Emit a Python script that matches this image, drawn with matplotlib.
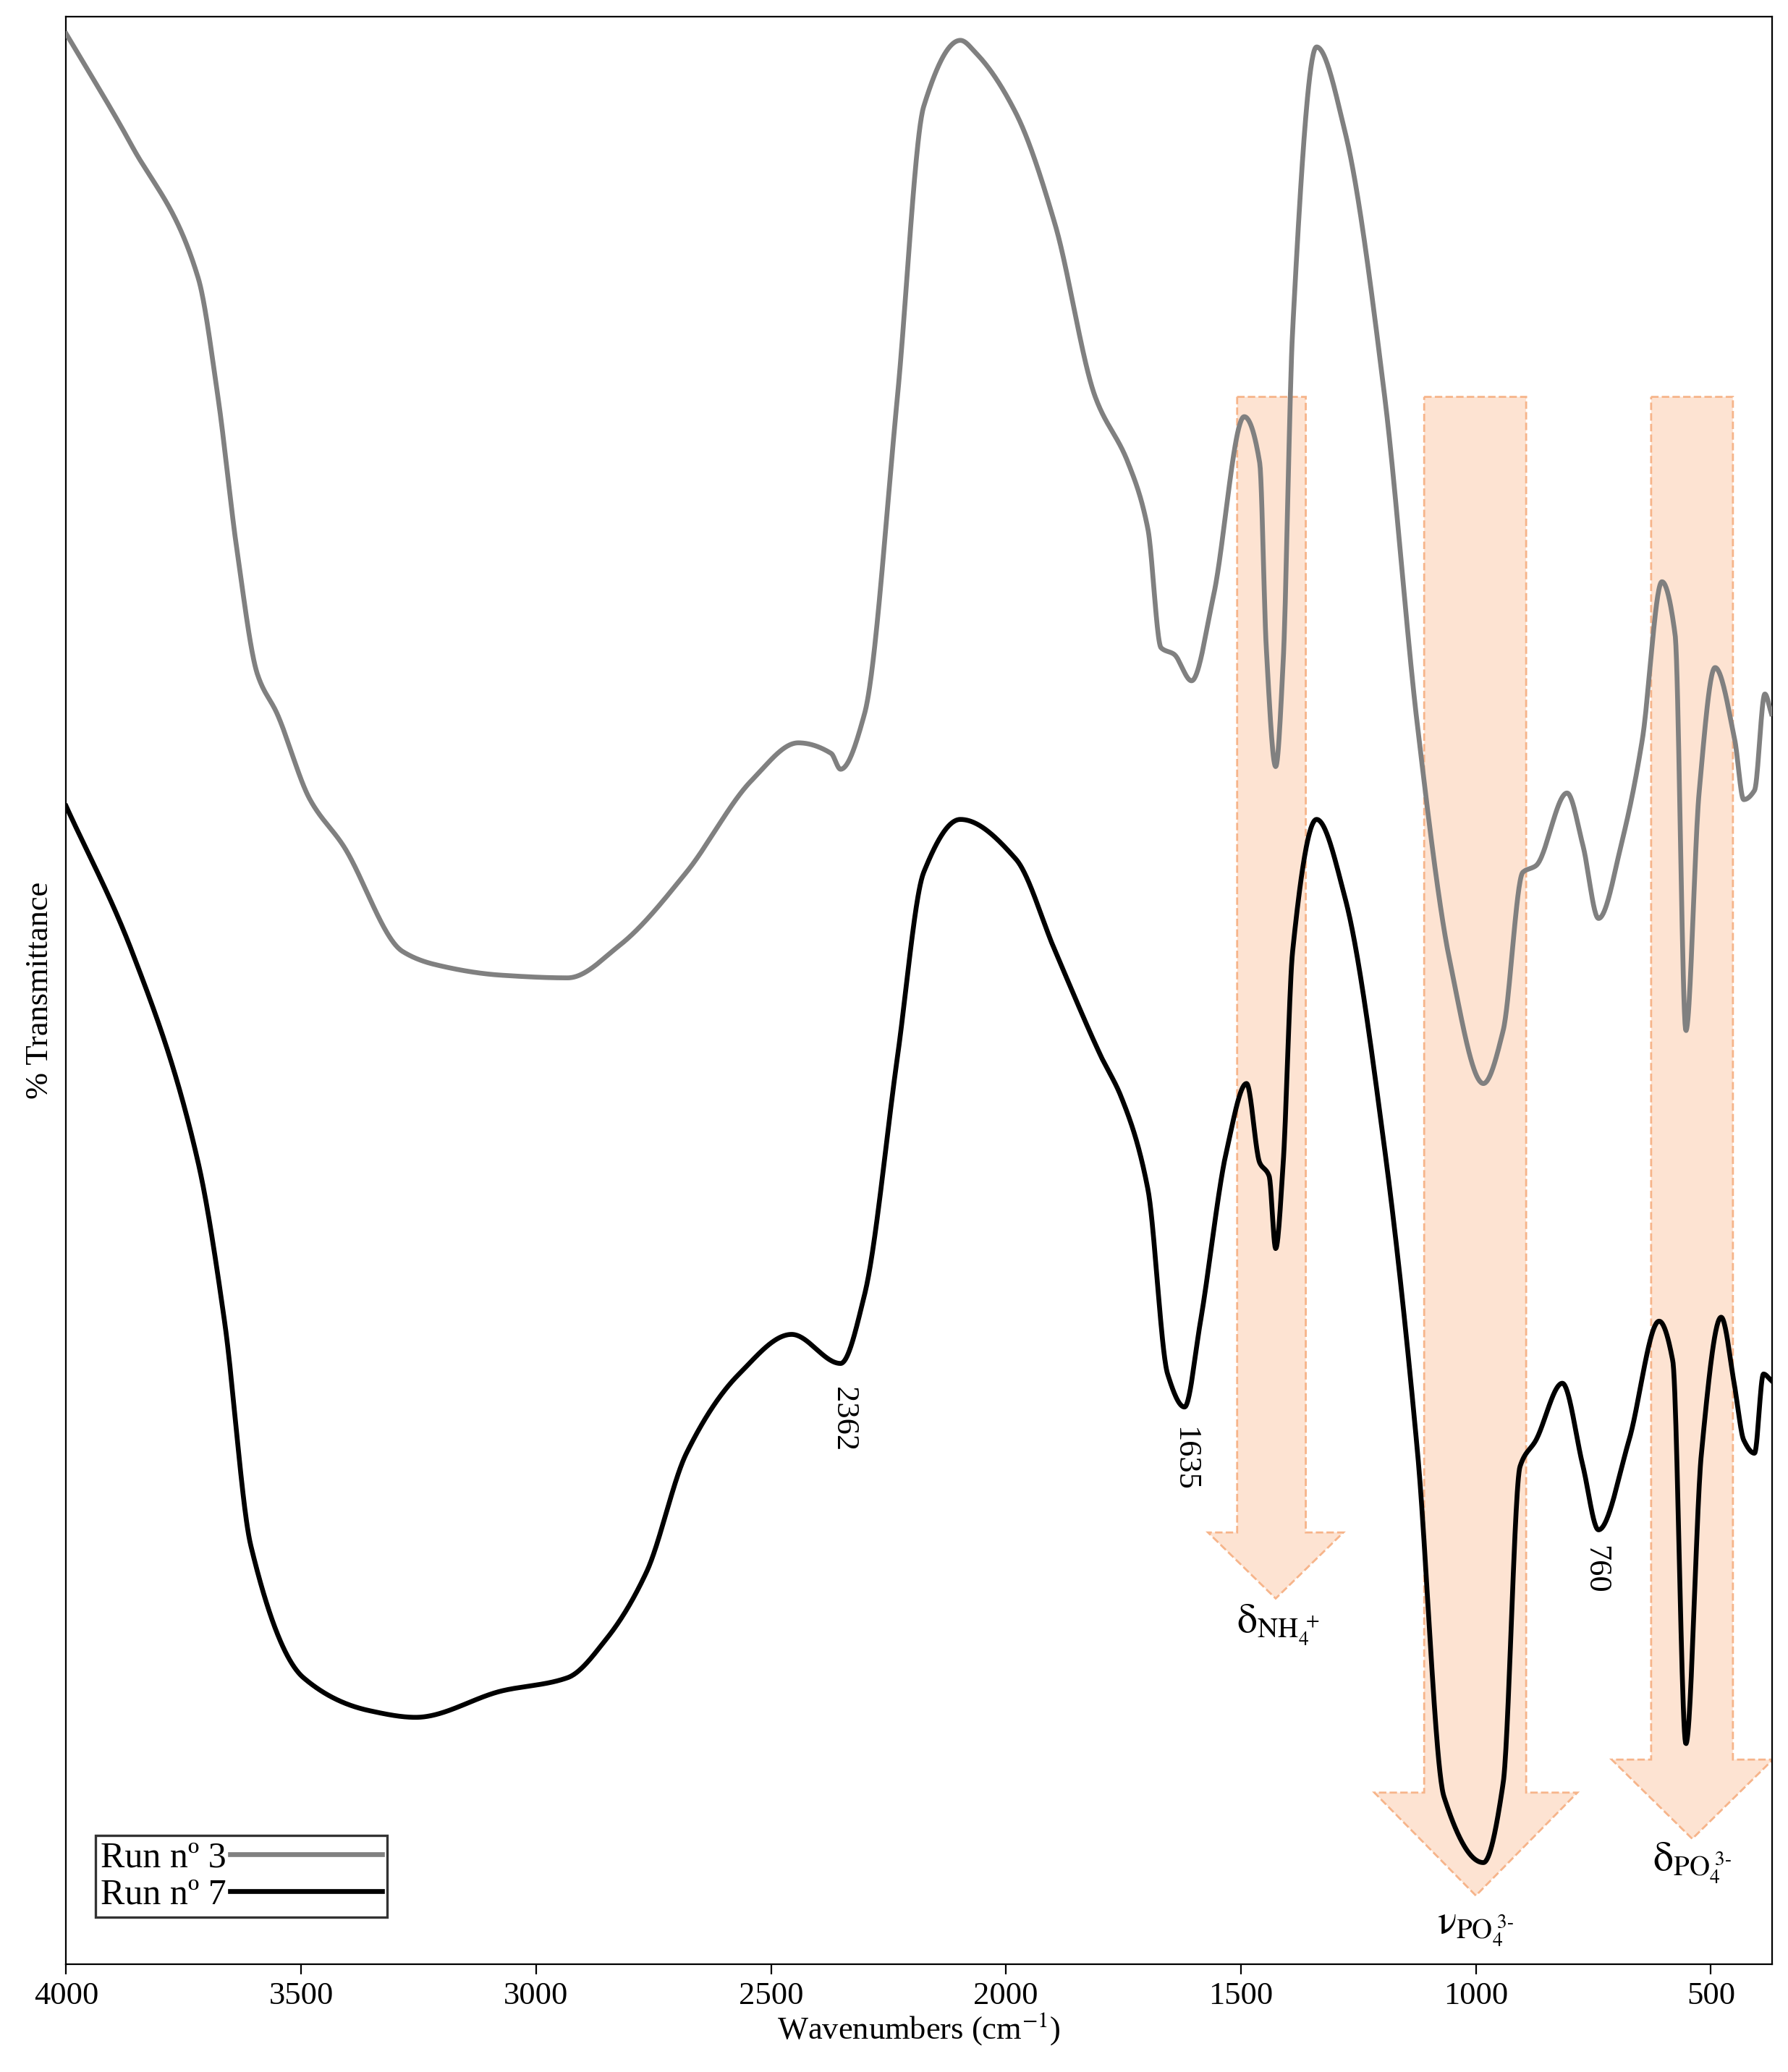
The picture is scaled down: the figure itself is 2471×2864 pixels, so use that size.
import matplotlib
matplotlib.use("Agg")
import matplotlib.pyplot as plt
from matplotlib.patches import Polygon
import numpy as np

plt.rcParams['font.family'] = ['Liberation Serif', 'DejaVu Serif']
plt.rcParams['mathtext.fontset'] = 'stix'

wn_run3 = [4000,3860,3719,3677,3635,3593,3551,3481,3410,3284,3214,3073,2933,2821,2680,2540,2442,2372,2352,2301,
           2231,2175,2097,2063,1979,1895,1810,1740,1698,1670,1642,1605,1558,1493,1460,1446,1426,1410,1390,1339,
           1278,1194,1124,1054,984,942,900,872,806,772,739,688,646,604,576,553,525,491,449,430,407,385,371]
t_run3 = [1462,1377,1277,1187,1067,977,947,882,847,767,757,749,747,772,827,897,925,917,905,947,
          1187,1407,1457,1447,1402,1317,1187,1137,1087,997,992,972,1037,1172,1137,997,907,987,1237,1452,
          1387,1187,937,757,667,707,827,832,887,847,792,852,927,1047,1007,707,887,982,927,882,889,962,947]
wn_run7 = [4000,3860,3719,3663,3607,3495,3354,3256,3073,2933,2849,2765,2680,2568,2456,2352,2301,2231,2175,2097,
           1979,1895,1797,1755,1698,1656,1620,1586,1530,1488,1460,1440,1426,1410,1390,1339,1278,1194,1124,1068,
           984,942,906,872,816,772,739,674,610,581,553,520,478,449,430,407,388,371]
t_run7 = [877,767,607,487,317,217,192,187,207,217,247,297,387,447,477,455,507,687,827,867,
          837,767,687,657,587,447,422,487,617,667,607,597,542,607,767,867,807,617,387,127,
          77,137,377,397,440,377,329,397,487,457,167,387,490,437,397,387,447,442]

band_labels = [r'$\mathrm{δ}_{\mathrm{NH}_4^{\ +}}$', r'$\mathrm{ν}_{\mathrm{PO}_4^{\ 3\text{-}}}$', r'$\mathrm{δ}_{\mathrm{PO}_4^{\ 3\text{-}}}$']
peak_labels = ['2362', '1635', '760']
peak_wn = [2345, 1620, 745]
peak_t = [437, 407, 317]


def pchip(x, y, n=3000):
    x = np.asarray(x, float)[::-1]
    y = np.asarray(y, float)[::-1]
    h = np.diff(x)
    d = np.diff(y) / h
    m = np.zeros_like(y)
    for k in range(1, len(x) - 1):
        if d[k - 1] * d[k] > 0:
            w1 = 2 * h[k] + h[k - 1]
            w2 = h[k] + 2 * h[k - 1]
            m[k] = (w1 + w2) / (w1 / d[k - 1] + w2 / d[k])
    m[0] = d[0]
    m[-1] = d[-1]
    xs = np.linspace(x[0], x[-1], n)
    idx = np.clip(np.searchsorted(x, xs) - 1, 0, len(x) - 2)
    t = (xs - x[idx]) / h[idx]
    h00 = 2 * t**3 - 3 * t**2 + 1
    h10 = t**3 - 2 * t**2 + t
    h01 = -2 * t**3 + 3 * t**2
    h11 = t**3 - t**2
    ys = h00 * y[idx] + h10 * h[idx] * m[idx] + h01 * y[idx + 1] + h11 * h[idx] * m[idx + 1]
    return xs, ys


fig = plt.figure(figsize=(12.355, 14.32), dpi=200)
ax = fig.add_axes([0.037, 0.052, 0.954, 0.940])

arrows = [(1508, 1362, 327, 1570, 1282, 277),
          (1110, 893, 130, 1216, 784, 52),
          (627, 453, 155, 711, 368, 95)]
for a, b, sb, ha, hb, tip in arrows:
    pts = [(a, 1187), (b, 1187), (b, sb), (hb, sb), ((ha + hb) / 2, tip), (ha, sb), (a, sb)]
    ax.add_patch(Polygon(pts, closed=True, facecolor='#FDE3D2', edgecolor='#F6B48A',
                         linestyle='--', linewidth=1.0, zorder=1))

x3, y3 = pchip(wn_run3, t_run3)
x7, y7 = pchip(wn_run7, t_run7)
ax.plot(x3, y3, color='#808080', lw=2.4, label='Run nº 3', zorder=3)
ax.plot(x7, y7, color='black', lw=2.4, label='Run nº 7', zorder=3)

for lab, x, y in zip(peak_labels, peak_wn, peak_t):
    ax.text(x, y, lab, rotation=270, ha='center', va='top', fontsize=16)

for lab, x, y in zip(band_labels, [1420, 1000, 540], [257, 27, 77]):
    ax.text(x, y, lab, ha='center', va='center', fontsize=20)

ax.set_xlim(4000, 370)
ax.set_ylim(0, 1475)
ax.set_yticks([])
ax.set_xticks([4000, 3500, 3000, 2500, 2000, 1500, 1000, 500])
ax.tick_params(axis='x', labelsize=16, direction='out', length=5)
ax.set_xlabel('Wavenumbers (cm$^{-1}$)', fontsize=16, labelpad=0)
ax.set_ylabel('% Transmittance', fontsize=16, labelpad=6)

leg = ax.legend(loc='lower left', bbox_to_anchor=(0.017, 0.024), markerfirst=False, fontsize=18,
                frameon=True, fancybox=False, edgecolor='black', handlelength=4.2,
                borderpad=0.15, labelspacing=0.1, handletextpad=0.1, borderaxespad=0)
leg.get_frame().set_linewidth(1.2)

fig.savefig('out.png', dpi=200)
